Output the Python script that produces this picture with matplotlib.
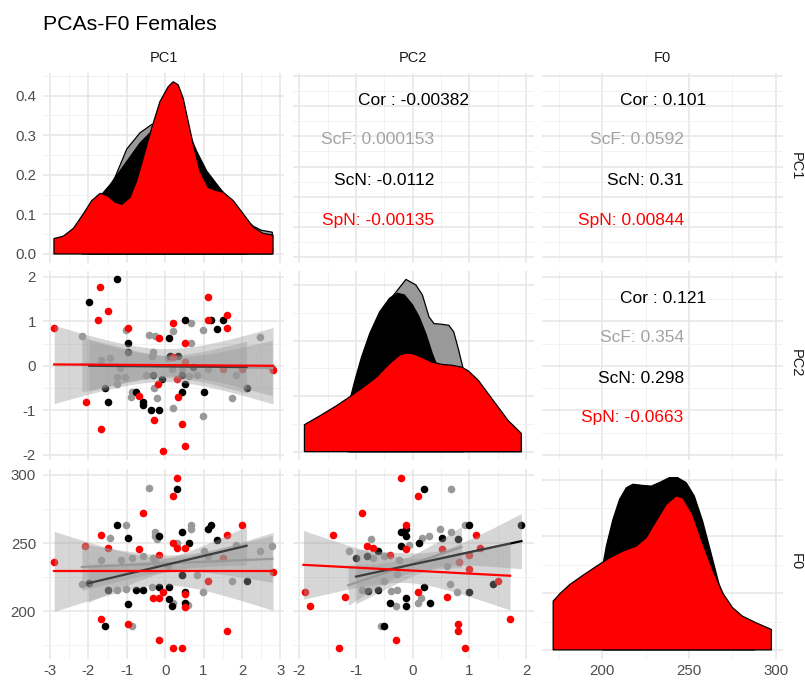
import numpy as np
import matplotlib
matplotlib.use("Agg")
import matplotlib.pyplot as plt
from matplotlib.ticker import MultipleLocator

plt.rcParams['font.family'] = ['Liberation Sans', 'DejaVu Sans']
plt.rcParams['axes.unicode_minus'] = False

# ---------------- data ----------------
variables = ["PC1", "PC2", "F0"]
groups = ["ScF", "ScN", "SpN"]
group_colors = {"ScF": "#999999", "ScN": "#000000", "SpN": "#FF0000"}
title = "PCAs-F0 Females"

# diagonal densities
dens_pc1_scf_x = [-2.17, -1.9, -1.7, -1.5, -1.30, -1.0, -0.655, -0.35, 0.0, 0.3, 0.6, 0.8, 1.1, 1.4, 1.7, 2.0, 2.3, 2.5, 2.79]
dens_pc1_scf_y = [0.06, 0.11, 0.14, 0.155, 0.195, 0.265, 0.306, 0.327, 0.33, 0.31, 0.295, 0.25, 0.2, 0.16, 0.125, 0.095, 0.07, 0.06, 0.055]
dens_pc1_scn_x = [-1.98, -1.7, -1.434, -1.174, -0.914, -0.655, -0.45, -0.25, 0.0, 0.3, 0.6, 0.818, 1.08, 1.338, 1.6, 1.85, 2.12]
dens_pc1_scn_y = [0.03, 0.145, 0.175, 0.21, 0.245, 0.28, 0.30, 0.32, 0.33, 0.32, 0.31, 0.26, 0.21, 0.177, 0.145, 0.115, 0.08]
dens_pc1_spn_x = [-2.896, -2.65, -2.387, -2.127, -1.91, -1.694, -1.52, -1.304, -1.13, -0.914, -0.74, -0.569, -0.351, -0.135,
                  0.08, 0.21, 0.34, 0.47, 0.60, 0.73, 0.904, 1.12, 1.338, 1.51, 1.77, 2.03, 2.29, 2.55, 2.81]
dens_pc1_spn_y = [0.039, 0.045, 0.065, 0.102, 0.135, 0.153, 0.148, 0.131, 0.125, 0.143, 0.185, 0.243, 0.318, 0.385,
                  0.4225, 0.435, 0.427, 0.393, 0.335, 0.277, 0.21, 0.168, 0.16, 0.156, 0.135, 0.102, 0.068, 0.052, 0.0475]

dens_pc2_scf_x = [-1.15, -1.0, -0.76, -0.585, -0.41, -0.294, -0.119, 0.056, 0.171, 0.288, 0.376, 0.493, 0.638, 0.725, 0.812, 0.90]
dens_pc2_scf_y = [0.155, 0.217, 0.372, 0.484, 0.546, 0.575, 0.62, 0.600, 0.564, 0.485, 0.461, 0.459, 0.455, 0.431, 0.365, 0.291]
dens_pc2_scn_x = [-1.11, -1.022, -0.905, -0.760, -0.585, -0.410, -0.265, -0.148, -0.003, 0.114, 0.231, 0.346, 0.405, 0.6, 1.0, 1.5, 1.92]
dens_pc2_scn_y = [0.186, 0.256, 0.340, 0.425, 0.503, 0.552, 0.570, 0.564, 0.528, 0.485, 0.425, 0.353, 0.322, 0.279, 0.217, 0.124, 0.050]
dens_pc2_spn_x = [-1.913, -1.633, -1.342, -1.109, -0.876, -0.643, -0.410, -0.236, -0.119, -0.003, 0.171, 0.346, 0.520,
                  0.695, 0.870, 0.987, 1.162, 1.336, 1.511, 1.686, 1.918]
dens_pc2_spn_y = [0.097, 0.130, 0.166, 0.198, 0.232, 0.268, 0.317, 0.347, 0.355, 0.353, 0.339, 0.322, 0.314,
                  0.311, 0.304, 0.290, 0.256, 0.208, 0.160, 0.112, 0.066]

dens_f0_scn_x = [200.3, 202.3, 206.1, 209.9, 213.8, 217.6, 223.3, 228.2, 232.9, 238.7, 243.4, 248.3, 253.0, 257.8, 262.6, 267.4, 275.0, 288.0]
dens_f0_scn_y = [0.00598, 0.00732, 0.00920, 0.01061, 0.01143, 0.01168, 0.01160, 0.01155, 0.01180, 0.01215, 0.01215, 0.01180,
                 0.01086, 0.00909, 0.00686, 0.00458, 0.00244, 0.00122]
dens_f0_spn_x = [171.6, 175.6, 181.2, 188.8, 196.6, 204.2, 211.8, 219.5, 225.3, 231.0, 236.8, 242.5, 246.3, 252.1, 257.8,
                 263.6, 269.3, 275.1, 280.8, 288.5, 297.5]
dens_f0_spn_y = [0.00344, 0.00398, 0.00461, 0.00526, 0.00590, 0.00650, 0.00697, 0.00732, 0.00792, 0.00909, 0.01026, 0.01086,
                 0.01074, 0.00956, 0.00756, 0.00567, 0.00403, 0.00298, 0.00238, 0.00192, 0.00144]

# scatter: PC2 vs PC1
pc2pc1_scf_x = [-2.17, -1.67, -1.43, -1.02, -1.17, -1.26, -1.26, -1.04, -0.87, -0.90, -0.42, -0.26, -0.31, -0.35, -0.50, -0.29, -0.20,
                0.08, 0.21, 0.19, 0.43, 0.21, 0.67, 0.67, 0.63, 0.82, 0.99, 0.99, 1.12, 1.74, 1.84, 2.46, 2.79]
pc2pc1_scf_y = [0.67, 0.12, 0.17, 0.81, -0.05, -0.25, -0.40, -0.25, -0.58, -0.70, 0.70, 0.66, 0.32, 0.21, -0.20, -0.50, -0.72,
                0.17, 0.79, -0.08, -0.08, -0.95, 0.96, 0.51, -0.24, -0.20, 0.81, -1.12, -0.08, -0.72, -0.20, 0.64, -0.05]
pc2pc1_scn_x = [-1.26, -1.98, -0.97, -0.98, -1.56, -1.48, -0.76, -0.57, -0.57, -0.38, -0.16, -0.09, -0.31, 0.11, 0.51, 0.51, 0.43,
                1.02, 1.19, 1.34, 1.51, 2.12, 0.12, 0.34, 0.43, 0.73]
pc2pc1_scn_y = [1.94, 1.43, 0.51, 0.32, -0.49, -0.81, -0.60, -0.82, -0.89, -1.00, -1.00, -0.30, -0.20, 0.62, 1.02, -0.40, -0.60,
                -0.60, 1.02, 0.83, 1.02, -0.49, 0.21, 0.21, -0.20, -0.02]
pc2pc1_spn_x = [-2.89, -1.69, -1.48, -1.76, -0.97, -2.06, -1.67, -0.67, -0.16, 0.21, 0.51, -0.18, 0.31, 0.34, -0.29, 0.43, -0.06,
                0.51, 1.12, 1.12, 1.61, 1.61, 2.81, 1.51, 2.01, 0.51, 0.21]
pc2pc1_spn_y = [0.85, 1.76, 1.24, 1.03, 0.85, -0.81, -1.41, -0.69, 0.62, 0.95, 0.51, -0.40, -0.30, -0.70, -1.21, -1.31, -1.91,
                -1.81, 1.54, 1.03, 1.14, 0.85, -0.09, -0.08, -0.08, 0.09, 0.20]

# scatter: F0 vs PC1
f0pc1_scf_x = [-2.17, -1.67, -1.43, -1.26, -1.02, -1.16, -1.02, -0.87, -0.87, -0.57, -0.42, -0.35, -0.26, -0.26, -0.22, -0.32,
               -0.26, 0.08, 0.21, 0.32, 0.43, 0.67, 0.67, 0.82, 0.60, 0.99, 1.01, 1.74, 1.84, 2.46, 2.79, 1.12]
f0pc1_scf_y = [219.6, 237.9, 253.4, 215.4, 263.0, 237.9, 216.2, 188.9, 238.9, 240.8, 290.4, 217.9, 258.2, 255.3, 252.9, 238.9,
               236.4, 233.5, 205.8, 250.0, 226.8, 263.0, 260.6, 226.8, 204.6, 214.3, 244.4, 222.0, 248.6, 244.4, 248.0, 240.8]
f0pc1_scn_x = [-1.26, -0.97, -1.98, -1.56, -1.48, -0.76, -0.57, -0.97, -0.16, -0.16, 0.11, 0.11, 0.19, 0.32, 0.43, 0.43, 0.51,
               0.51, 0.63, 1.12, 1.19, 1.34, 2.12]
f0pc1_scn_y = [263.0, 253.4, 221.0, 188.9, 215.4, 215.9, 215.9, 205.3, 255.3, 217.9, 217.9, 208.9, 203.8, 289.9, 258.2, 226.3,
               214.3, 205.8, 250.0, 260.6, 263.0, 252.4, 222.0]
f0pc1_spn_x = [-2.89, -1.67, -2.08, -1.48, -0.57, -0.67, -0.16, -0.31, -0.16, -0.06, 0.21, 0.32, 0.21, 0.32, 0.51, 0.51, 0.51,
               -1.67, -0.97, -0.16, 0.21, 0.43, 1.61, 2.01, 1.12, 1.61, 2.81, 1.51]
f0pc1_spn_y = [236.0, 255.8, 247.6, 246.6, 271.7, 245.7, 241.3, 210.0, 210.0, 213.8, 284.8, 297.8, 250.0, 246.2, 246.2, 212.5,
               203.4, 194.4, 190.8, 178.8, 173.2, 173.2, 255.8, 263.0, 222.0, 185.7, 228.8, 238.9]

# scatter: F0 vs PC2
f0pc2_scf_x = [0.68, -1.13, -0.73, -0.90, -0.56, -0.29, -0.39, -0.27, 0.10, 0.14, 0.16, 0.29, 0.49, 0.67, 0.92, -0.06, -0.50,
               -0.70, -0.50, 0.66, 0.78, 0.61, -0.24, -0.27]
f0pc2_scf_y = [289.9, 244.4, 252.9, 215.9, 188.9, 204.1, 215.0, 215.9, 205.8, 209.4, 253.4, 254.9, 260.6, 258.1, 263.0, 248.6,
               240.8, 239.1, 222.0, 219.6, 214.3, 233.5, 237.2, 227.5]
f0pc2_scn_x = [0.20, -0.21, -0.11, -0.11, -0.21, 0.11, 0.51, 1.00, 1.92, 0.80, -1.00, -0.80, -0.61, -0.79, -0.61, -0.40, -0.11,
               -0.11, 0.30, 0.20, 1.00, 1.41, -0.50]
f0pc2_scn_y = [289.9, 258.2, 260.6, 254.9, 248.0, 250.0, 253.4, 263.0, 263.0, 252.9, 238.9, 240.4, 244.0, 215.0, 215.9, 205.8,
               209.4, 204.1, 205.8, 217.9, 214.3, 219.6, 188.9]
f0pc2_spn_x = [-0.21, 0.10, -0.90, -1.41, -0.80, -0.71, -0.11, -0.11, -0.40, 0.51, 1.11, 1.19, 1.00, 0.81, 1.00, 1.51, -1.91,
               -1.81, -1.20, 0.10, 0.61, 0.80, 0.80, 1.72, -0.29, -1.30, 0.92]
f0pc2_spn_y = [298.0, 284.8, 271.7, 255.8, 247.6, 246.4, 263.5, 245.7, 241.3, 245.7, 255.8, 246.6, 241.3, 236.0, 231.2, 222.0,
               213.8, 204.1, 210.1, 213.8, 210.1, 190.8, 185.3, 194.2, 178.5, 173.2, 173.2]

# linear fits (x_lo, x_hi, y_at_lo, y_at_hi, x_mean, se_min, se_slope) per group
fit_pc2pc1_scf = [-2.17, 2.79, 0.03, -0.05, 0.3, 0.22, 0.234]
fit_pc2pc1_scn = [-1.98, 2.12, 0.0, -0.03, 0.05, 0.25, 0.255]
fit_pc2pc1_spn = [-2.89, 2.81, 0.03, 0.0, 0.0, 0.37, 0.276]
fit_f0pc1_scf = [-2.17, 2.79, 232.4, 238.4, 0.3, 6.0, 6.5]
fit_f0pc1_scn = [-2.0, 2.12, 220.5, 248.0, 0.05, 5.0, 6.4]
fit_f0pc1_spn = [-2.89, 2.81, 229.2, 229.2, 0.0, 10.0, 9.55]
fit_f0pc2_scf = [-1.14, 0.86, 219.0, 247.0, -0.15, 6.0, 13.7]
fit_f0pc2_scn = [-1.0, 1.92, 225.4, 251.4, 0.45, 6.0, 13.2]
fit_f0pc2_spn = [-1.93, 1.72, 234.0, 226.0, -0.1, 9.0, 12.9]

# correlations (text panels)
cor_pc1_pc2 = ["-0.00382", "0.000153", "-0.0112", "-0.00135"]
cor_pc1_f0 = ["0.101", "0.0592", "0.31", "0.00844"]
cor_pc2_f0 = ["0.121", "0.354", "0.298", "-0.0663"]

# ---------------- assemble ----------------
dens = {
    "PC1": {"ScF": (dens_pc1_scf_x, dens_pc1_scf_y), "ScN": (dens_pc1_scn_x, dens_pc1_scn_y), "SpN": (dens_pc1_spn_x, dens_pc1_spn_y)},
    "PC2": {"ScF": (dens_pc2_scf_x, dens_pc2_scf_y), "ScN": (dens_pc2_scn_x, dens_pc2_scn_y), "SpN": (dens_pc2_spn_x, dens_pc2_spn_y)},
    "F0": {"ScN": (dens_f0_scn_x, dens_f0_scn_y), "SpN": (dens_f0_spn_x, dens_f0_spn_y)},
}
scatter = {
    (1, 0): {"ScF": (pc2pc1_scf_x, pc2pc1_scf_y), "ScN": (pc2pc1_scn_x, pc2pc1_scn_y), "SpN": (pc2pc1_spn_x, pc2pc1_spn_y)},
    (2, 0): {"ScF": (f0pc1_scf_x, f0pc1_scf_y), "ScN": (f0pc1_scn_x, f0pc1_scn_y), "SpN": (f0pc1_spn_x, f0pc1_spn_y)},
    (2, 1): {"ScF": (f0pc2_scf_x, f0pc2_scf_y), "ScN": (f0pc2_scn_x, f0pc2_scn_y), "SpN": (f0pc2_spn_x, f0pc2_spn_y)},
}
fits = {
    (1, 0): {"ScF": fit_pc2pc1_scf, "ScN": fit_pc2pc1_scn, "SpN": fit_pc2pc1_spn},
    (2, 0): {"ScF": fit_f0pc1_scf, "ScN": fit_f0pc1_scn, "SpN": fit_f0pc1_spn},
    (2, 1): {"ScF": fit_f0pc2_scf, "ScN": fit_f0pc2_scn, "SpN": fit_f0pc2_spn},
}
cors = {(0, 1): cor_pc1_pc2, (0, 2): cor_pc1_f0, (1, 2): cor_pc2_f0}


def fit_curve(f):
    x_lo, x_hi, y_lo, y_hi, xm, a, b = f
    xs = np.linspace(x_lo, x_hi, 80)
    ys = y_lo + (y_hi - y_lo) * (xs - x_lo) / (x_hi - x_lo)
    hw = np.sqrt(a ** 2 + (b * (xs - xm)) ** 2)
    return xs, ys, hw


# variable ranges (union over every layer), ggplot-like 5% expansion
vals = {v: [] for v in variables}
for v in variables:
    for g, (xx, yy) in dens[v].items():
        vals[v] += list(xx)
for (r, c), d in scatter.items():
    for g, (xx, yy) in d.items():
        vals[variables[c]] += list(xx)
        vals[variables[r]] += list(yy)
for (r, c), d in fits.items():
    for g, f in d.items():
        xs, ys, hw = fit_curve(f)
        vals[variables[c]] += [xs.min(), xs.max()]
        vals[variables[r]] += [(ys - hw).min(), (ys + hw).max()]


def expand(lo, hi):
    d = hi - lo
    return lo - 0.05 * d, hi + 0.05 * d


lims = {v: expand(min(vals[v]), max(vals[v])) for v in variables}
breaks = {"PC1": (1, 0.5), "PC2": (1, 0.5), "F0": (50, 25)}
dens_breaks = {"PC1": (0.1, 0.05), "PC2": (0.2, 0.1), "F0": (0.004, 0.002)}

# ---------------- figure ----------------
W, H = 805, 684
fig = plt.figure(figsize=(W / 100, H / 100), dpi=100)
col_left = [43, 292.5, 542.2]
col_w = 241
row_top = [73.1, 270.8, 469]
row_h = 189.5

tick_color = "#4d4d4d"
strip_color = "#1a1a1a"


def style(ax, xb, yb):
    ax.set_facecolor("white")
    for s in ax.spines.values():
        s.set_visible(False)
    ax.xaxis.set_major_locator(MultipleLocator(xb[0]))
    ax.xaxis.set_minor_locator(MultipleLocator(xb[1]))
    ax.yaxis.set_major_locator(MultipleLocator(yb[0]))
    ax.yaxis.set_minor_locator(MultipleLocator(yb[1]))
    ax.grid(True, which="major", color="#e6e6e6", lw=1.1, zorder=0)
    ax.grid(True, which="minor", color="#f0f0f0", lw=0.6, zorder=0)
    ax.set_axisbelow(True)
    ax.tick_params(which="both", length=0, labelsize=10.8, labelcolor=tick_color)
    ax.tick_params(axis="x", pad=4)
    ax.tick_params(axis="y", pad=5)


for r in range(3):
    for c in range(3):
        l = col_left[c] / W
        b = 1 - (row_top[r] + row_h) / H
        ax = fig.add_axes([l, b, col_w / W, row_h / H])
        vx = variables[c]
        vy = variables[r]
        ax.set_xlim(*lims[vx])
        if r == c:
            style(ax, breaks[vx], dens_breaks[vx])
            M = max(max(yy) for xx, yy in dens[vx].values())
            ax.set_ylim(-0.05 * M, 1.05 * M)
            for g in groups:
                if g in dens[vx]:
                    xx, yy = dens[vx][g]
                    px = [xx[0]] + list(xx) + [xx[-1]]
                    py = [0] + list(yy) + [0]
                    ax.fill(px, py, facecolor=group_colors[g], edgecolor="black", lw=0.9, zorder=3)
        elif r > c:
            style(ax, breaks[vx], breaks[vy])
            ax.set_ylim(*lims[vy])
            for g in groups:
                xx, yy = scatter[(r, c)][g]
                ax.scatter(xx, yy, s=30, color=group_colors[g], linewidths=0, zorder=2)
            z = 3
            for g in groups:
                xs, ys, hw = fit_curve(fits[(r, c)][g])
                ax.fill_between(xs, ys - hw, ys + hw, color="#999999", alpha=0.4, lw=0, zorder=z)
                ax.plot(xs, ys, color=group_colors[g], lw=1.6, zorder=z + 0.5)
                z += 1
        else:
            style(ax, breaks[vx], breaks[vy])
            ax.set_ylim(*lims[vy])
            vals_txt = cors[(r, c)]
            xr = 0.5 + 21 / col_w
            ax.text(0.5, 0.855, "Cor : " + vals_txt[0], transform=ax.transAxes, ha="center", va="center",
                    fontsize=12.5, color="black")
            for k, g in enumerate(groups):
                tc = "#a3a3a3" if g == "ScF" else group_colors[g]
                ax.text(xr, [0.648, 0.432, 0.224][k], g + ": " + vals_txt[k + 1], transform=ax.transAxes,
                        ha="right", va="center", fontsize=12.5, color=tc)
        if c != 0:
            ax.set_yticklabels([])
        if r != 2:
            ax.set_xticklabels([])
        if c == 0 and r == 0:
            ax.yaxis.set_major_formatter(matplotlib.ticker.FormatStrFormatter("%.1f"))

# strip labels
for c, v in enumerate(variables):
    fig.text((col_left[c] + col_w / 2) / W, 1 - 58 / H, v, ha="center", va="center", fontsize=10.5, color=strip_color)
for r, v in enumerate(variables):
    fig.text(796 / W, 1 - (row_top[r] + row_h / 2 - 2) / H, v, ha="center", va="center", rotation=270,
             fontsize=10.5, color=strip_color)

fig.text(43 / W, 1 - 25 / H, title, ha="left", va="center", fontsize=15.3, color="black")

fig.savefig("out.png", dpi=100, facecolor="white")
